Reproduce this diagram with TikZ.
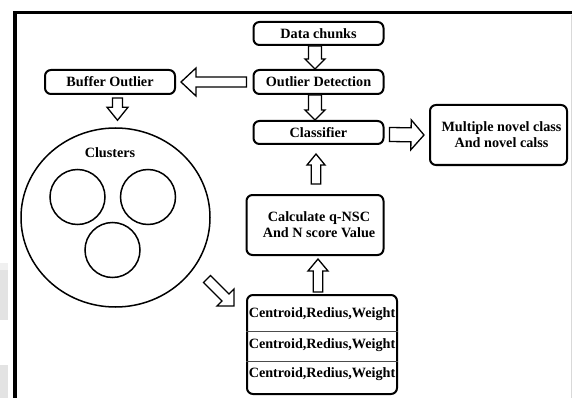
\documentclass[tikz,border=0pt]{standalone}
\usepackage{fontspec}
\setmainfont{Liberation Serif}
\usetikzlibrary{calc,shapes.geometric}
\tikzset{
  box/.style={draw, line width=2pt, rounded corners=6pt, inner sep=0pt, align=center},
  lbl/.style={font=\fontsize{14.2}{16}\selectfont\bfseries, align=center, inner sep=0pt},
  ring/.style={draw, line width=1.5pt, ellipse, inner sep=0pt},
  small/.style={draw, line width=1.5pt, circle, inner sep=0pt, minimum size=55pt},
  blk/.style={draw, line width=1.3pt, fill=white, line join=miter},
  divider/.style={draw=black!70, line width=0.8pt}
}
% hollow block arrow: {shaft half-width}{head half-width}{head length}{tail}{tip}
\newcommand\blockarrow[5]{%
  \coordinate (baT) at #4;
  \coordinate (baP) at #5;
  \coordinate (baB) at ($(baP)!#3!(baT)$);
  \draw[blk] ($(baT)!#1!90:(baP)$) -- ($(baB)!#1!90:(baP)$) -- ($(baB)!#2!90:(baP)$)
     -- (baP) -- ($(baB)!#2!-90:(baP)$) -- ($(baB)!#1!-90:(baP)$) -- ($(baT)!#1!-90:(baP)$) -- cycle;
}
\begin{document}
\begin{tikzpicture}[x=1pt,y=-1pt]
\clip (0,0) rectangle (572,398);
\fill[white] (0,0) rectangle (572,398);
% scanned page edge patches
\fill[gray!22] (0,263) rectangle (8,320);
\fill[gray!12] (0,263) rectangle (8,270);
\fill[gray!22] (0,365) rectangle (8,398);
% frame
\draw[line width=3.6pt] (15,420) -- (15,12.5) -- (600,12.5);
\draw[gray!30, line width=0.8pt] (571,15) -- (571,398);

% boxes
\node[box, minimum width=130pt, minimum height=23pt] (dc) at (318.5,33.5) {};
\node[lbl] at (dc.center) {Data chunks};
\node[box, minimum width=130pt, minimum height=24pt] (od) at (318.5,82) {};
\node[lbl] at (od.center) {Outlier Detection};
\node[box, minimum width=130pt, minimum height=23pt] (cl) at (318.5,132.5) {};
\node[lbl] at (cl.center) {Classifier};
\node[box, minimum width=137pt, minimum height=60pt] (mn) at (498.5,135) {};
\node[lbl] at ($(mn.center)+(3,0)$) {Multiple novel class\\And novel calss};
\node[box, minimum width=130pt, minimum height=24pt] (bo) at (110,82) {};
\node[lbl] at (bo.center) {Buffer Outlier};
\node[box, minimum width=137pt, minimum height=60pt] (calc) at (315,225) {};
\node[lbl] at ($(calc.center)+(4,0)$) {Calculate q-NSC\\And N score Value};
\node[box, minimum width=150pt, minimum height=99pt] (cent) at (322,344.5) {};
\draw[divider] (cent.west |- 0,331.7) -- (cent.east |- 0,331.7);
\draw[divider] (cent.west |- 0,361.7) -- (cent.east |- 0,361.7);
\node[lbl] (r1) at (322,314) {Centroid,Redius,Weight};
\node[lbl] (r2) at (322,345) {Centroid,Redius,Weight};
\node[lbl] (r3) at (322,374) {Centroid,Redius,Weight};

% clusters
\node[ring, minimum width=189pt, minimum height=179pt] (clu) at (115.5,217.5) {};
\node[lbl] (clt) at (110,153) {Clusters};
\node[small] (c1) at (77.5,197) {};
\node[small] (c2) at (148,197) {};
\node[small] (c3) at (112.5,250) {};

% block arrows
\blockarrow{6.5pt}{10pt}{10pt}{($(dc.south)+(-3.5,0)$)}{($(od.north)+(-3.5,0)$)}
\blockarrow{6.5pt}{10pt}{10pt}{($(od.south)+(-3.5,0)$)}{($(cl.north)+(-3.5,0)$)}
\blockarrow{5pt}{14pt}{15pt}{($(od.west)+(-6,0)$)}{($(bo.east)+(5,0)$)}
\blockarrow{7pt}{15pt}{13pt}{($(cl.east)+(5,2)$)}{($(mn.west)+(-5,0)$)}
\blockarrow{4.7pt}{9pt}{11pt}{($(calc.north)+(1,-10)$)}{($(cl.south)+(-2.5,9)$)}
\blockarrow{4.7pt}{10pt}{12pt}{($(cent.north)+(-4,-2)$)}{($(calc.south)+(3,3)$)}
\blockarrow{5pt}{10.5pt}{13pt}{($(bo.south)+(7.5,3)$)}{($(clu.north)+(2,-7)$)}
\coordinate (dtail) at (207,279);
\coordinate (dtip) at (234,306);
\blockarrow{5pt}{12pt}{12pt}{(dtail)}{(dtip)}
\end{tikzpicture}
\end{document}
